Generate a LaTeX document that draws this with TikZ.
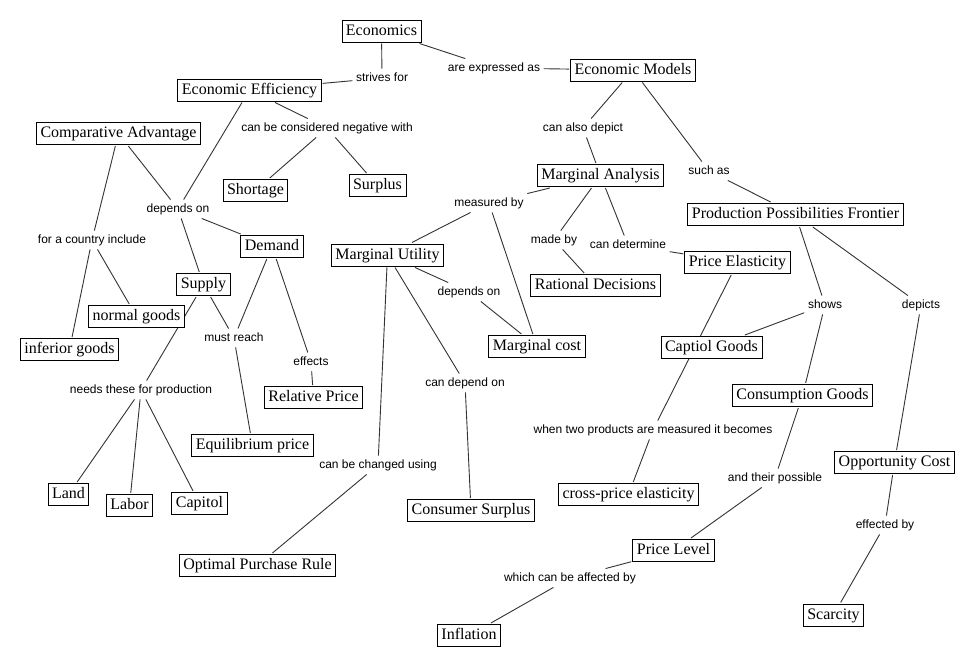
\documentclass[tikz,border=0pt]{standalone}
\usepackage{fontspec}
\setmainfont{Liberation Serif}
\newfontfamily\lblfont{Liberation Sans}
\usetikzlibrary{backgrounds}
\pgfdeclarelayer{bgzero}
\pgfsetlayers{bgzero,background,main}
\begin{document}
\begin{tikzpicture}[x=1pt,y=-1pt,
  concept/.style={draw=black,line width=0.9pt,fill=white,rectangle,
    font=\fontsize{16}{18}\selectfont,inner xsep=4pt,inner ysep=3.5pt,
    text height=11.5pt,text depth=3.5pt,outer sep=1.5pt},
  linkph/.style={rectangle,font=\lblfont\fontsize{12}{14}\selectfont,
    inner sep=3.5pt,text height=9pt,text depth=2.5pt},
  conn/.style={line width=0.9pt,draw=black!80}]
\begin{pgfonlayer}{bgzero}
\fill[white] (0,0) rectangle (975,667);
\end{pgfonlayer}
\useasboundingbox (0,0) rectangle (975,667);
% concepts
\node[concept] (econ) at (381.5,31) {Economics};
\node[concept] (eff) at (249.5,90) {Economic Efficiency};
\node[concept] (comp) at (118.5,133.5) {Comparative Advantage};
\node[concept] (short) at (255.5,190.5) {Shortage};
\node[concept] (surplus) at (377.5,185.5) {Surplus};
\node[concept] (demand) at (272,246.5) {Demand};
\node[concept] (mu) at (387.5,255) {Marginal Utility};
\node[concept] (supply) at (203.5,284.5) {Supply};
\node[concept] (normal) at (136.5,316.5) {normal goods};
\node[concept] (inferior) at (69.5,349.5) {inferior goods};
\node[concept] (models) at (633,70) {Economic Models};
\node[concept] (ma) at (600.5,175.5) {Marginal Analysis};
\node[concept] (ppf) at (795.5,214.5) {Production Possibilities Frontier};
\node[concept] (pe) at (737.5,262.5) {Price Elasticity};
\node[concept] (rd) at (595.5,285.5) {Rational Decisions};
\node[concept] (mc) at (537,346.5) {Marginal cost};
\node[concept] (captiol) at (711.5,347.5) {Captiol Goods};
\node[concept] (consumption) at (802.5,395.5) {Consumption Goods};
\node[concept] (relprice) at (313.5,397.5) {Relative Price};
\node[concept] (eqprice) at (252.5,445.5) {Equilibrium price};
\node[concept] (oc) at (894.5,462.5) {Opportunity Cost};
\node[concept] (cpe) at (628.5,494.5) {cross-price elasticity};
\node[concept] (land) at (68.5,494.5) {Land};
\node[concept] (labor) at (129.5,505.5) {Labor};
\node[concept] (capitol) at (199.5,503.5) {Capitol};
\node[concept] (cs) at (471,510.5) {Consumer Surplus};
\node[concept] (pl) at (673.5,550.5) {Price Level};
\node[concept] (opr) at (257.5,565.5) {Optimal Purchase Rule};
\node[concept] (scarcity) at (833.5,615) {Scarcity};
\node[concept] (inflation) at (469,635.5) {Inflation};
% linking phrases
\node[linkph] (l1) at (382,78) {strives for};
\node[linkph] (l2) at (494,68) {are expressed as};
\node[linkph] (l3) at (327,128) {can be considered negative with};
\node[linkph] (l4) at (178,209) {depends on};
\node[linkph] (l5) at (92,240) {for a country include};
\node[linkph] (l6) at (234,338) {must reach};
\node[linkph] (l7) at (311,362) {effects};
\node[linkph] (l8) at (141,390) {needs these for production};
\node[linkph] (l9) at (583,128) {can also depict};
\node[linkph] (l10) at (709,171) {such as};
\node[linkph] (l11) at (489,203) {measured by};
\node[linkph] (l12) at (554,240) {made by};
\node[linkph] (l13) at (628,245) {can determine};
\node[linkph] (l14) at (469,292) {depends on};
\node[linkph] (l15) at (465,383) {can depend on};
\node[linkph] (l16) at (378,465) {can be changed using};
\node[linkph] (l17) at (825,305) {shows};
\node[linkph] (l18) at (921,305) {depicts};
\node[linkph] (l19) at (653,430) {when two products are measured it becomes};
\node[linkph] (l20) at (775,478) {and their possible};
\node[linkph] (l21) at (570,578) {which can be affected by};
\node[linkph] (l22) at (885,525) {effected by};
% connectors
\begin{pgfonlayer}{background}
\draw[conn] (econ) -- (l1); \draw[conn] (l1) -- (eff);
\draw[conn] (econ) -- (l2); \draw[conn] (l2) -- (models);
\draw[conn] (eff) -- (l3); \draw[conn] (l3) -- (short); \draw[conn] (l3) -- (surplus);
\draw[conn] (eff) -- (l4); \draw[conn] (comp) -- (l4);
\draw[conn] (l4) -- (supply); \draw[conn] (l4) -- (demand);
\draw[conn] (comp) -- (l5); \draw[conn] (l5) -- (inferior); \draw[conn] (l5) -- (normal);
\draw[conn] (supply) -- (l6); \draw[conn] (demand) -- (l6); \draw[conn] (l6) -- (eqprice);
\draw[conn] (demand) -- (l7); \draw[conn] (l7) -- (relprice);
\draw[conn] (supply) -- (l8); \draw[conn] (l8) -- (land); \draw[conn] (l8) -- (labor); \draw[conn] (l8) -- (capitol);
\draw[conn] (models) -- (l9); \draw[conn] (l9) -- (ma);
\draw[conn] (models) -- (l10); \draw[conn] (l10) -- (ppf);
\draw[conn] (ma) -- (l11); \draw[conn] (l11) -- (mu); \draw[conn] (l11) -- (mc);
\draw[conn] (ma) -- (l12); \draw[conn] (l12) -- (rd);
\draw[conn] (ma) -- (l13); \draw[conn] (l13) -- (pe);
\draw[conn] (mu) -- (l14); \draw[conn] (l14) -- (mc);
\draw[conn] (mu) -- (l15); \draw[conn] (l15) -- (cs);
\draw[conn] (mu) -- (l16); \draw[conn] (l16) -- (opr);
\draw[conn] (ppf) -- (l17); \draw[conn] (l17) -- (captiol); \draw[conn] (l17) -- (consumption);
\draw[conn] (ppf) -- (l18); \draw[conn] (l18) -- (oc);
\draw[conn] (pe) -- (l19); \draw[conn] (l19) -- (cpe);
\draw[conn] (consumption) -- (l20); \draw[conn] (l20) -- (pl);
\draw[conn] (pl) -- (l21); \draw[conn] (l21) -- (inflation);
\draw[conn] (oc) -- (l22); \draw[conn] (l22) -- (scarcity);
\end{pgfonlayer}
\end{tikzpicture}
\end{document}
